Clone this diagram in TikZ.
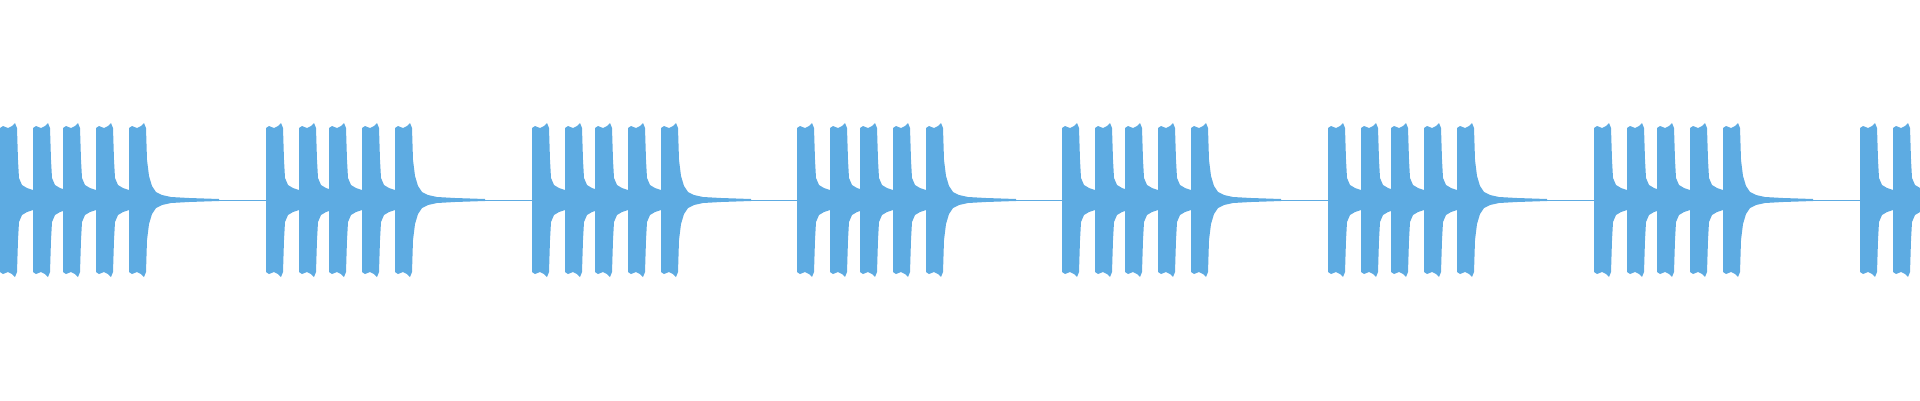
\documentclass[tikz,border=0pt]{standalone}
\definecolor{wave}{RGB}{93,171,226}
\begin{document}
\begin{tikzpicture}[x=0.02cm,y=-0.02cm,wv/.style={fill=wave,draw=none}]
\useasboundingbox (0,0) rectangle (1920,400);
\draw[wave,line width=0.02cm] (0,200) -- (1920,200);
\foreach \g in {0,266,532,797,1062,1328,1594,1860}{
  \foreach \p/\last in {0/0,33/0,63/0,96/0,129/1}{
    \pgfmathsetmacro{\s}{\g+\p}
    \begin{scope}[shift={(\s,200)}]
      \ifnum\last=0
      \fill[wv] (0,0) -- (0,-72) -- (3,-74) -- (8,-72) -- (12,-74) -- (15,-77) -- (17,-72) -- (18,-40) -- (19,-22) -- (22,-15) -- (27,-12) -- (33,-10) -- (33,10) -- (27,12) -- (22,15) -- (19,22) -- (18,40) -- (17,72) -- (15,77) -- (12,74) -- (8,72) -- (3,74) -- (0,72) -- cycle;
      \else
      \fill[wv] (0,0) -- (0,-72) -- (3,-74) -- (8,-72) -- (12,-74) -- (15,-77) -- (17,-72) -- (18,-40) -- (20,-24) -- (23,-14) -- (27,-8) -- (33,-5) -- (42,-3) -- (60,-2) -- (90,-1) -- (90,1) -- (60,2) -- (42,3) -- (33,5) -- (27,8) -- (23,14) -- (20,24) -- (18,40) -- (17,72) -- (15,77) -- (12,74) -- (8,72) -- (3,74) -- (0,72) -- cycle;
      \fi
    \end{scope}
  }
}
\end{tikzpicture}
\end{document}
